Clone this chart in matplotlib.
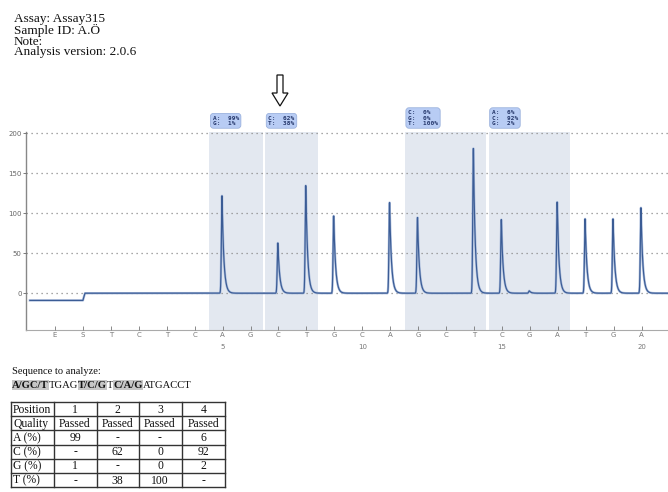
import numpy as np
import matplotlib
matplotlib.use('Agg')
import matplotlib.pyplot as plt
from matplotlib.patches import Polygon

# ---------------- data ----------------
header_lines = ["Assay: Assay315", "Sample ID: A.Ö", "Note:", "Analysis version: 2.0.6"]
dispensation = list("ESTCTCAGCTGCAGCTCGATGA")
peak_heights = [0, 0, 0, 0, 0, 0, 122, 0, 63, 135, 97, 0, 114, 95, 0, 181, 92, 3, 114, 93, 93, 107]
baseline_before_S = -9
y_ticks = [0, 50, 100, 150, 200]
number_ticks = [5, 10, 15, 20]
# variable regions: (first dispensation number, last dispensation number)
regions = [(5, 6), (7, 8), (12, 14), (15, 17)]

table_positions = ["1", "2", "3", "4"]
table_quality = ["Passed", "Passed", "Passed", "Passed"]
pct_A = ["99", "-", "-", "6"]
pct_C = ["-", "62", "0", "92"]
pct_G = ["1", "-", "0", "2"]
pct_T = ["-", "38", "100", "-"]
row_labels = ["Position", "Quality", "A (%)", "C (%)", "G (%)", "T (%)"]

sequence_parts = [("A/GC/T", True), ("TGAG", False), ("T/C/G", True),
                  ("T", False), ("C/A/G", True), ("ATGACCT", False)]

# ---------------- figure ----------------
W, H = 668, 492
fig = plt.figure(figsize=(W / 100, H / 100), dpi=100)
fig.patch.set_facecolor('white')

ax = fig.add_axes([26 / W, 162 / H, 642 / W, 198.3 / H])
ax.set_xlim(-1.038, 21.948)
ax.set_ylim(-46, 202)

# shaded variable regions
for first, last in regions:
    ax.axvspan(first + 1 - 0.47, last + 1 + 0.43, color='#e3e8f0', zorder=0, lw=0)

# trace
x = np.linspace(-0.9, 21.95, 8000)
sidx = dispensation.index('S')
y = np.where(x < sidx, float(baseline_before_S), 0.0)
ramp = (x >= sidx) & (x < sidx + 0.07)
y[ramp] = baseline_before_S + (x[ramp] - sidx) / 0.07 * (-baseline_before_S)
for i, h in enumerate(peak_heights):
    if h == 0:
        continue
    d = x - (i - 0.02)
    shape = np.where(d < 0, np.exp(-0.5 * (d / 0.022) ** 2), np.exp(-np.clip(d, 0, None) / 0.065))
    y = y + h * shape
ax.plot(x, y, color='#a9bbdb', lw=1.7, zorder=3, solid_joinstyle='round')
ax.plot(x, y, color='#3b5c95', lw=0.85, zorder=4)

# grid
ax.set_yticks(y_ticks)
ax.yaxis.grid(True, linestyle=(0, (1, 3)), color='#8a8a8a', lw=0.9)
ax.set_axisbelow(False)
for gl in ax.get_ygridlines():
    gl.set_zorder(2)

ax.tick_params(axis='y', labelsize=5, colors='#666666', length=2, width=0.6, pad=1)
ax.set_xticks(range(len(dispensation)))
ax.set_xticklabels(dispensation)
ax.tick_params(axis='x', direction='in', labelsize=5, colors='#777777', length=3, width=0.6, pad=1.5)

for n in number_ticks:
    ax.text(n + 1, -0.088, str(n), transform=ax.get_xaxis_transform(), ha='center', va='center',
            fontsize=5, color='#777777')

for s in ['top', 'right']:
    ax.spines[s].set_visible(False)
ax.spines['left'].set_color('#888888')
ax.spines['left'].set_linewidth(1.0)
ax.spines['bottom'].set_color('#aaaaaa')
ax.spines['bottom'].set_linewidth(0.8)

# percentage boxes above regions
pct_by_base = {'A': pct_A, 'C': pct_C, 'G': pct_G, 'T': pct_T}
for k, (first, last) in enumerate(regions):
    lines = [f"{b}:  {pct_by_base[b][k]}%" for b in "ACGT" if pct_by_base[b][k] != "-"]
    ax.text(first + 1 - 0.47 + 0.11, 209, "\n".join(lines), ha='left', va='bottom',
            family='DejaVu Sans Mono', fontsize=4.4, fontweight='bold', color='#24366a',
            linespacing=1.15, clip_on=False, zorder=6,
            bbox=dict(boxstyle='round,pad=0.35,rounding_size=0.5', fc='#b8ccf4', ec='#93abd9', lw=0.5))

# ---------------- overlay (pixel coords) ----------------
ov = fig.add_axes([0, 0, 1, 1])
ov.set_xlim(0, W)
ov.set_ylim(H, 0)
ov.axis('off')

serif = 'Liberation Serif'
ov.text(14, 13, "\n".join(header_lines), family=serif, fontsize=9.5, va='top', ha='left',
        color='#111111', linespacing=0.87)

# hollow arrow
arrow = Polygon([(277, 75), (283, 75), (283, 93), (288, 93), (280, 106), (272, 93), (277, 93)],
                closed=True, fill=False, ec='#111111', lw=0.9)
ov.add_patch(arrow)

ov.text(12, 371, "Sequence to analyze:", family=serif, fontsize=7.6, va='center', ha='left', color='#111111')
prev = None
for txt, hl in sequence_parts:
    kw = dict(fontsize=7.7, family=serif, fontweight='bold' if hl else 'normal',
              va='bottom', ha='left', color='#111111')
    if hl:
        kw['bbox'] = dict(boxstyle='square,pad=0.02', fc='#c6c6c6', ec='none')
    if prev is None:
        prev = ov.text(12, 389.5, txt, **kw)
    else:
        prev = ov.annotate(txt, xy=(1, 0), xycoords=prev, xytext=(0, 0), textcoords='offset points', **kw)

# table
col_edges = [11, 53.5, 96.5, 138.5, 181.5, 225]
row_edges = [402, 416.2, 430.4, 444.6, 458.8, 473, 487.2]
table_rows = [table_positions, table_quality, pct_A, pct_C, pct_G, pct_T]
for yy in row_edges:
    ov.plot([col_edges[0], col_edges[-1]], [yy, yy], color='#333333', lw=1.0)
for xx in col_edges:
    ov.plot([xx, xx], [row_edges[0], row_edges[-1]], color='#333333', lw=1.0)
for r, (lab, vals) in enumerate(zip(row_labels, table_rows)):
    yc = (row_edges[r] + row_edges[r + 1]) / 2 + 0.5
    ov.text(col_edges[0] + 2, yc, lab, family=serif, fontsize=8.4, va='center', ha='left', color='#111111')
    for c, v in enumerate(vals):
        xc = (col_edges[c + 1] + col_edges[c + 2]) / 2
        ov.text(xc, yc, v, family=serif, fontsize=8.4, va='center', ha='center', color='#111111')

fig.savefig('out.png', dpi=100)
